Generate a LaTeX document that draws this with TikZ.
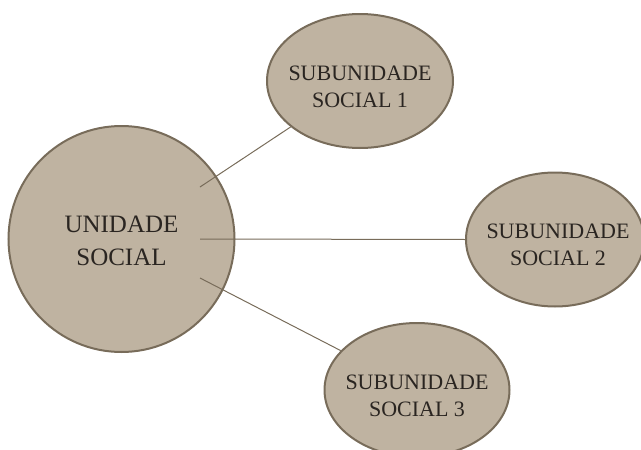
\documentclass[tikz,border=0pt]{standalone}
\usepackage{fontspec}
\setmainfont{Liberation Serif}
\usetikzlibrary{shapes.geometric}
\definecolor{fillc}{HTML}{BFB3A1}
\definecolor{edgec}{HTML}{786C5A}
\definecolor{txtc}{HTML}{2A2521}
\tikzset{
  bubble/.style={ellipse, draw=edgec, fill=fillc, line width=2pt, inner sep=0pt},
  bigtxt/.style={text=txtc, align=center, inner sep=0pt, font=\fontsize{25}{33}\selectfont},
  subtxt/.style={text=txtc, align=center, inner sep=0pt, font=\fontsize{22}{27}\selectfont},
  link/.style={draw=edgec, line width=1pt}
}
\begin{document}
\begin{tikzpicture}[x=1pt,y=-1pt]
\useasboundingbox (0,0) rectangle (641,450);
\clip (0,0) rectangle (641,450);
\node[bubble, circle, minimum size=226pt] (U) at (121.5,239) {};
\node[bubble, minimum width=186pt, minimum height=134pt] (S1) at (360,81) {};
\node[bubble, minimum width=178pt, minimum height=134pt] (S2) at (555,239.5) {};
\node[bubble, minimum width=185pt, minimum height=134pt] (S3) at (417,390) {};
\coordinate (c1) at (200,187);
\coordinate (c2) at (200,239);
\coordinate (c3) at (200,278);
\draw[link] (c1) -- (S1);
\draw[link] (c2) -- (S2.west);
\draw[link] (c3) -- (S3);
\node[bigtxt] (Ut) at (121.5,241) {UNIDADE\\SOCIAL};
\node[subtxt] (S1t) at (360,87) {SUBUNIDADE\\SOCIAL 1};
\node[subtxt] (S2t) at (558,245) {SUBUNIDADE\\SOCIAL 2};
\node[subtxt] (S3t) at (417,396) {SUBUNIDADE\\SOCIAL 3};
\end{tikzpicture}
\end{document}
